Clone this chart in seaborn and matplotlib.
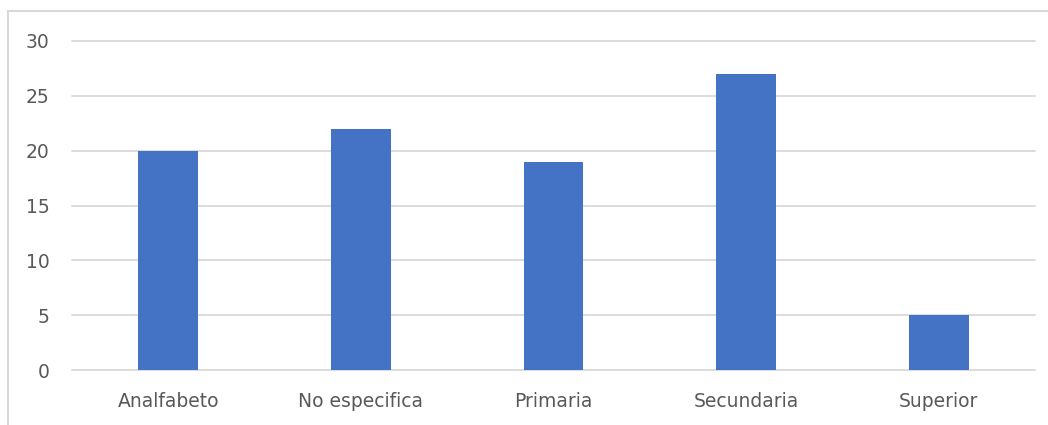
import matplotlib
matplotlib.use("Agg")
import matplotlib.pyplot as plt
import seaborn as sns
import pandas as pd
from matplotlib.lines import Line2D

categorias = ["Analfabeto", "No especifica", "Primaria", "Secundaria", "Superior"]
valores = [20, 22, 19, 27, 5]
yticks = [0, 5, 10, 15, 20, 25, 30]

sns.set_theme(style="white")
plt.rcParams['font.family'] = ['DejaVu Sans']

df = pd.DataFrame({"nivel": categorias, "n": valores})

fig = plt.figure(figsize=(10.48, 4.25), dpi=100)
ax = fig.add_axes([72 / 1048, 1 - 370 / 425, (1035 - 72) / 1048, (370 - 41) / 425])

sns.barplot(data=df, x="nivel", y="n", color="#4472C4", saturation=1, width=0.31,
            linewidth=0, ax=ax, zorder=3)

ax.set_ylim(0, 30)
ax.set_yticks(yticks)
ax.set_xlabel("")
ax.set_ylabel("")
ax.grid(axis="y", color="#d9d9d9", linewidth=1.3, zorder=0)
for gl in ax.yaxis.get_gridlines():
    gl.set_clip_on(False)
for s in ax.spines.values():
    s.set_visible(False)
ax.tick_params(axis="both", length=0, labelsize=13.5, labelcolor="#595959")
ax.tick_params(axis="y", pad=16)
ax.tick_params(axis="x", pad=16)

# marco exterior del grafico (solo se ve arriba e izquierda)
fig.add_artist(Line2D([8 / 1048, 1], [1 - 11 / 425, 1 - 11 / 425], transform=fig.transFigure, color="#d9d9d9", linewidth=1.5))
fig.add_artist(Line2D([8 / 1048, 8 / 1048], [0, 1 - 11 / 425], transform=fig.transFigure, color="#d9d9d9", linewidth=1.5))

fig.savefig("out.png", dpi=100)
